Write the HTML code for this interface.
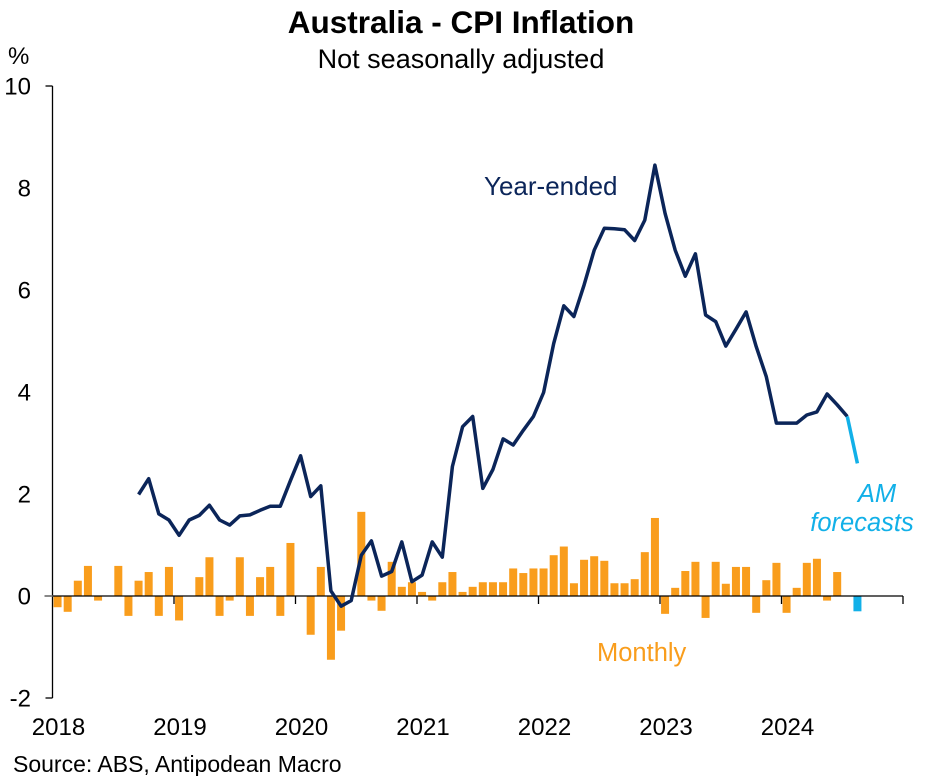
<!DOCTYPE html>
<html><head><meta charset="utf-8"><style>
body{margin:0;background:#fff;font-family:"Liberation Sans",sans-serif}
svg{display:block}
</style></head><body>
<svg id="c" width="927" height="776" xmlns="http://www.w3.org/2000/svg" font-family="Liberation Sans, sans-serif">
<text x="461" y="33" text-anchor="middle" font-size="31.5" font-weight="bold" fill="#000">Australia - CPI Inflation</text>
<text x="461" y="68" text-anchor="middle" font-size="27" fill="#000">Not seasonally adjusted</text>
<text x="8" y="64" font-size="24" fill="#000">%</text>
<g id="yt"></g><g id="bars"></g><g id="axes"></g><g id="lines"></g>
<text x="484" y="195" font-size="26" fill="#0b2559">Year-ended</text>
<text x="597" y="661" font-size="25.5" fill="#f99d1c">Monthly</text>
<text x="877" y="502" text-anchor="middle" font-size="25.5" font-style="italic" fill="#12b0e8">AM</text>
<text x="862" y="531" text-anchor="middle" font-size="25.5" font-style="italic" fill="#12b0e8">forecasts</text>
<text x="13" y="772" font-size="23" fill="#000">Source: ABS, Antipodean Macro</text>
</svg>
<script>
const monthly=[-0.22,-0.31,0.30,0.59,-0.09,0,0.59,-0.39,0.30,0.47,-0.39,0.57,
-0.48,0,0.37,0.76,-0.39,-0.09,0.76,-0.39,0.37,0.57,-0.39,1.04,
0,-0.76,0.57,-1.25,-0.68,0,1.65,-0.09,-0.29,0.67,0.18,0.27,
0.08,-0.09,0.27,0.47,0.08,0.18,0.27,0.27,0.27,0.54,0.45,0.54,
0.54,0.80,0.97,0.25,0.71,0.78,0.69,0.25,0.25,0.33,0.86,1.53,
-0.35,0.16,0.49,0.67,-0.43,0.67,0.24,0.57,0.57,-0.33,0.31,0.65,
-0.33,0.16,0.65,0.73,-0.09,0.47,0];
const monthlyForecast=[{m:79,v:-0.30}];
const yearEndedStart=8;
const yearEnded=[1.99,2.30,1.61,1.49,1.19,1.49,1.58,1.78,1.49,1.39,1.57,1.59,1.68,1.76,1.76,2.26,2.75,1.95,2.16,0.10,-0.20,-0.09,0.80,1.08,0.39,0.48,1.06,0.28,0.41,1.06,0.76,2.54,3.32,3.52,2.11,2.48,3.08,2.96,3.25,3.52,3.99,4.95,5.69,5.48,6.10,6.78,7.21,7.20,7.18,6.97,7.37,8.45,7.50,6.78,6.27,6.71,5.51,5.38,4.90,5.23,5.57,4.89,4.30,3.39,3.39,3.39,3.55,3.61,3.96,3.75,3.52];
const yearEndedForecast=[3.52,2.60];
const yTicks=[10,8,6,4,2,0,-2];
const xYears=["2018","2019","2020","2021","2022","2023","2024"];
const NS="http://www.w3.org/2000/svg";
const X0=52.5,MW=10.125,Y0=596,YU=51;
const xc=m=>X0+(m+0.5)*MW, xe=m=>X0+m*MW, y=v=>Y0-v*YU;
function mk(t,a,p){const e=document.createElementNS(NS,t);for(const k in a)e.setAttribute(k,a[k]);p.appendChild(e);return e;}
const yt=document.getElementById('yt'),bars=document.getElementById('bars'),axes=document.getElementById('axes'),lines=document.getElementById('lines');
yTicks.forEach(v=>{const t=mk('text',{x:31,y:y(v)+8.5,'text-anchor':'end','font-size':24,fill:'#000'},yt);t.textContent=v;

});
monthly.forEach((v,i)=>{if(!v)return;const r=mk('rect',{x:xc(i)-4,y:Math.min(y(v),Y0),width:8,height:Math.abs(v)*YU,fill:'#f99d1c'},bars);

});
monthlyForecast.forEach(d=>{const r=mk('rect',{x:xc(d.m)-4,y:Math.min(y(d.v),Y0),width:8,height:Math.abs(d.v)*YU,fill:'#12b0e8'},bars);

});
const ya=mk('line',{x1:X0,y1:y(10),x2:X0,y2:y(-2),stroke:'#000','stroke-width':1.3},axes);


mk('line',{x1:X0-7,y1:y(10),x2:X0,y2:y(10),stroke:'#000','stroke-width':1.3},axes);
mk('line',{x1:X0-7,y1:y(-2),x2:X0,y2:y(-2),stroke:'#000','stroke-width':1.3},axes);
mk('line',{x1:X0-8,y1:Y0,x2:X0,y2:Y0,stroke:'#888','stroke-width':2},axes);
const xa=mk('line',{x1:X0,y1:Y0,x2:xe(84),y2:Y0,stroke:'#000','stroke-width':1.3},axes);


for(let k=1;k<=7;k++)mk('line',{x1:xe(12*k),y1:Y0,x2:xe(12*k),y2:Y0+8,stroke:'#000','stroke-width':1.3},axes);
xYears.forEach((s,k)=>{const t=mk('text',{x:xe(12*k)+6,y:735,'text-anchor':'middle','font-size':24,fill:'#000'},axes);t.textContent=s;

});
const p=yearEnded.map((v,i)=>(i?'L':'M')+xc(yearEndedStart+i).toFixed(1)+','+y(v).toFixed(1)).join('');
const l=mk('path',{d:p,fill:'none',stroke:'#0b2559','stroke-width':3.5,'stroke-linejoin':'round'},lines);


const fs=yearEndedStart+yearEnded.length-1;
const pf=yearEndedForecast.map((v,i)=>(i?'L':'M')+xc(fs+i).toFixed(1)+','+y(v).toFixed(1)).join('');
const lf=mk('path',{d:pf,fill:'none',stroke:'#12b0e8','stroke-width':3.5},lines);


</script>
</body></html>
